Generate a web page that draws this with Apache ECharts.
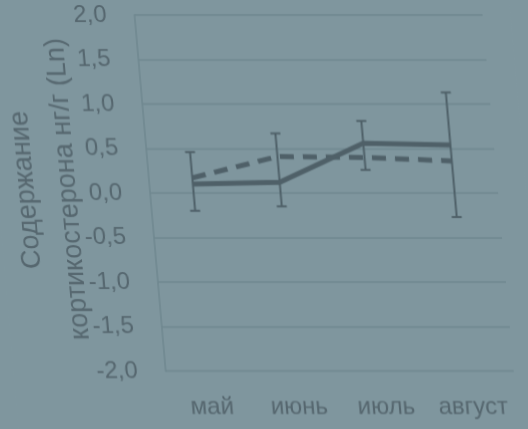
<!DOCTYPE html>
<html>
<head>
<meta charset="utf-8">
<script src="https://cdn.jsdelivr.net/npm/echarts@6/dist/echarts.min.js"></script>
<style>
  html, body { margin: 0; padding: 0; background: #7f969e; overflow: hidden; }
  #chart { width: 528px; height: 429px; transform: skewX(5deg); transform-origin: 50% 50%; }
</style>
</head>
<body>
<div id="chart"></div>
<script>
// Months of the observation period
const months = ['май', 'июнь', 'июль', 'август'];
// Corticosterone content, ng/g (Ln), two groups
const groupSolid = [0.10, 0.12, 0.56, 0.54];
const groupDashed = [0.17, 0.41, 0.40, 0.36];
// Error bar ends for each month
const errLow = [-0.20, -0.15, 0.26, -0.27];
const errHigh = [0.46, 0.67, 0.81, 1.13];
// Value axis range and step
const yMin = -2.0, yMax = 2.0, yStep = 0.5;

const ink = '#56676f';
const lineInk = '#4f6068';
const gridInk = '#6f878f';
const font = 'Liberation Sans, Arial, sans-serif';

const chart = echarts.init(document.getElementById('chart'), null, { renderer: 'canvas' });

chart.setOption({
  backgroundColor: '#7f969e',
  animation: false,
  grid: { left: 152, right: 28, top: 15, bottom: 58 },
  xAxis: {
    type: 'category',
    data: months,
    boundaryGap: true,
    axisLine: { show: false },
    axisTick: { show: false },
    axisLabel: { interval: 0, color: ink, fontSize: 24, fontFamily: font, margin: 24, hideOverlap: false }
  },
  yAxis: {
    type: 'value',
    min: yMin, max: yMax, interval: yStep,
    axisLine: { show: true, lineStyle: { color: gridInk, width: 1.5 } },
    axisTick: { show: false },
    splitLine: { show: true, lineStyle: { color: gridInk, width: 1.5 } },
    axisLabel: {
      color: ink, fontSize: 24, fontFamily: font, margin: 28,
      formatter: v => v.toFixed(1).replace('.', ',')
    }
  },
  graphic: [
    {
      type: 'text', x: 29, y: 190, rotation: Math.PI / 2,
      style: { text: 'Содержание', fill: ink, font: '27px ' + font, textAlign: 'center', textVerticalAlign: 'middle' }
    },
    {
      type: 'text', x: 71, y: 189, rotation: Math.PI / 2,
      style: { text: 'кортикостерона нг/г (Ln)', fill: ink, font: '27px ' + font, textAlign: 'center', textVerticalAlign: 'middle' }
    }
  ],
  series: [
    {
      name: 'error',
      type: 'custom',
      data: months.map((m, i) => [i, errLow[i], errHigh[i]]),
      renderItem: function (params, api) {
        const i = api.value(0);
        const lo = api.coord([i, api.value(1)]);
        const hi = api.coord([i, api.value(2)]);
        const cap = 5;
        const st = { stroke: lineInk, lineWidth: 2 };
        return {
          type: 'group',
          children: [
            { type: 'line', shape: { x1: hi[0], y1: hi[1], x2: lo[0], y2: lo[1] }, style: st },
            { type: 'line', shape: { x1: hi[0] - cap, y1: hi[1], x2: hi[0] + cap, y2: hi[1] }, style: st },
            { type: 'line', shape: { x1: lo[0] - cap, y1: lo[1], x2: lo[0] + cap, y2: lo[1] }, style: st }
          ]
        };
      },
      z: 1
    },
    {
      name: 'solid',
      type: 'line',
      data: groupSolid,
      symbol: 'none',
      lineStyle: { color: lineInk, width: 5 },
      z: 3
    },
    {
      name: 'dashed',
      type: 'line',
      data: groupDashed,
      symbol: 'none',
      lineStyle: { color: lineInk, width: 5, type: [14, 9] },
      z: 2
    }
  ]
});
</script>
</body>
</html>
